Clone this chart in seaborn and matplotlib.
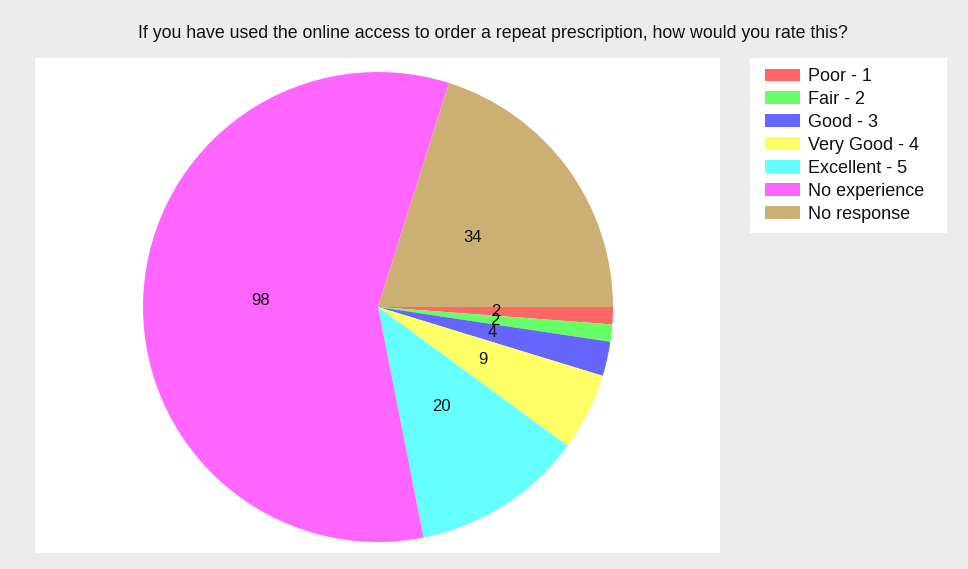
import matplotlib
matplotlib.use("Agg")
import matplotlib.pyplot as plt
from matplotlib.patches import Rectangle
import seaborn as sns

sns.set_style("white")
plt.rcParams['font.family'] = ['Liberation Sans', 'DejaVu Sans']

categories = ["Poor - 1", "Fair - 2", "Good - 3", "Very Good - 4", "Excellent - 5", "No experience", "No response"]
values = [2, 2, 4, 9, 20, 98, 34]
colors = ["#FF6666", "#66FF66", "#6666FF", "#FFFF66", "#66FFFF", "#FF66FF", "#CCAF73"]
title = "If you have used the online access to order a repeat prescription, how would you rate this?"

W, H = 968, 569
fig = plt.figure(figsize=(W/100, H/100), dpi=100, facecolor="#ECECEC")

# pie area
left, top, right, bottom = 35, 58, 720, 553
ax = fig.add_axes([left/W, 1-bottom/H, (right-left)/W, (bottom-top)/H])
wedges, texts = ax.pie(values, colors=colors, labels=[str(v) for v in values],
                       labeldistance=0.5, startangle=0, counterclock=False,
                       wedgeprops=dict(linewidth=0),
                       textprops=dict(fontsize=12, color="#111111"))
for t in texts:
    t.set_ha("center"); t.set_va("center")
R = 235.0
cx, cy = 378, 307
ax.set_xlim(-(cx-left)/R, (right-cx)/R)
ax.set_ylim(-(bottom-cy)/R, (cy-top)/R)
ax.set_aspect("auto")
ax.set_frame_on(True)
for s in ax.spines.values():
    s.set_visible(False)
ax.set_facecolor("white")

fig.text(493/W, 1-34/H, title, ha="center", va="center", fontsize=12.8, color="#111111")

# legend box
fig.patches.append(Rectangle((750/W, 1-233/H), 197/W, 175/H, transform=fig.transFigure,
                             facecolor="white", edgecolor="none", zorder=0))
leg = fig.legend(wedges, categories, loc="upper left",
                 bbox_to_anchor=(765/W, 1-68/H), borderaxespad=0, borderpad=0,
                 fontsize=13, frameon=False,
                 handlelength=1.95, handleheight=0.67, handletextpad=0.45,
                 labelspacing=0.33)
for t in leg.get_texts():
    t.set_color("#111111")

fig.savefig("out.png", dpi=100, facecolor=fig.get_facecolor())
